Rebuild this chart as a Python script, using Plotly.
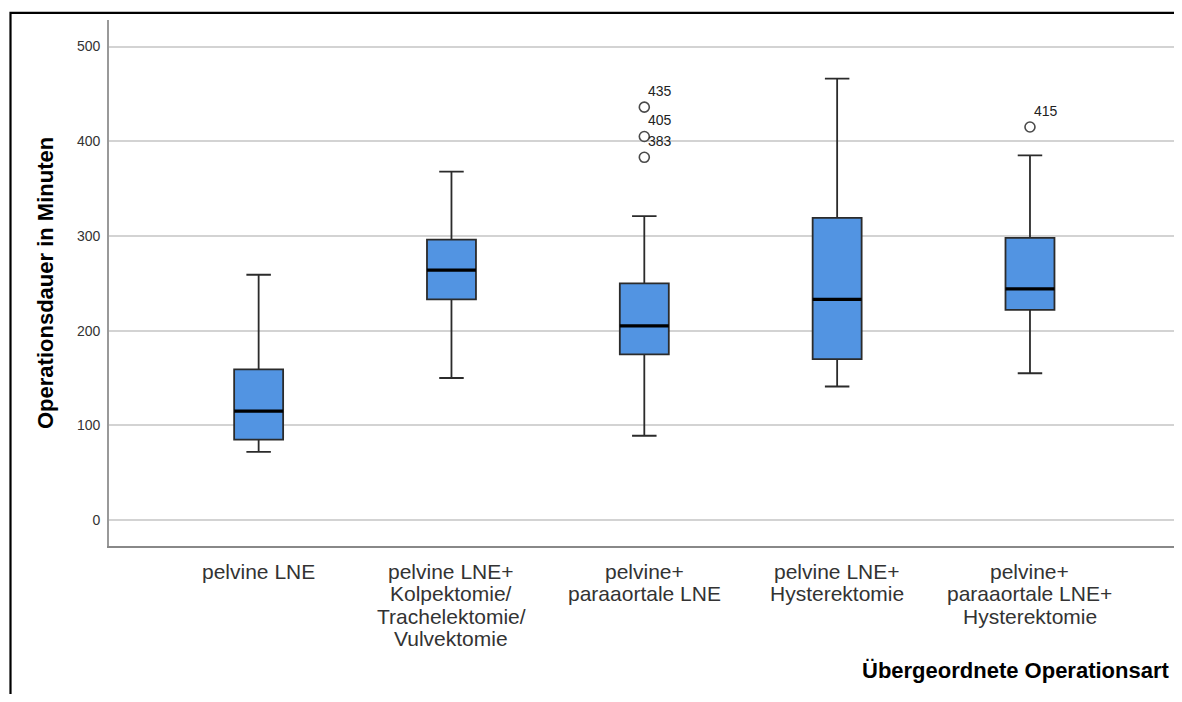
import plotly.graph_objects as go

categories = [
    "pelvine LNE",
    "pelvine LNE+<br>Kolpektomie/<br>Trachelektomie/<br>Vulvektomie",
    "pelvine+<br>paraaortale LNE",
    "pelvine LNE+<br>Hysterektomie",
    "pelvine+<br>paraaortale LNE+<br>Hysterektomie",
]
lower_whisker = [72, 150, 89, 141, 155]
q1_values = [85, 233, 175, 170, 222]
median_values = [115, 264, 205, 233, 244]
q3_values = [159, 296, 250, 319, 298]
upper_whisker = [259, 368, 321, 466, 385]

outlier_category = [2, 2, 2, 4]
outlier_values = [436, 405, 383, 415]
outlier_labels = ["435", "405", "383", "415"]

y_ticks = [0, 100, 200, 300, 400, 500]

FONT = "Liberation Sans, Arial, sans-serif"
BOX_FILL = "#5294e2"
BOX_LINE = "#2b2b2b"
BOX_WIDTH = 0.254

# figure geometry (page body has an 8px margin)
W, H = 1174, 686
ML, MR, MT, MB = 101, 2, 12, 148
PW = W - ML - MR
PH = H - MT - MB

fig = go.Figure()
x_idx = list(range(len(categories)))

fig.add_trace(go.Box(
    x=x_idx,
    q1=q1_values,
    median=median_values,
    q3=q3_values,
    lowerfence=lower_whisker,
    upperfence=upper_whisker,
    width=BOX_WIDTH,
    whiskerwidth=0.5,
    fillcolor=BOX_FILL,
    line=dict(color=BOX_LINE, width=1.8),
    boxpoints=False,
    showlegend=False,
    hoverinfo="skip",
))

fig.add_trace(go.Scatter(
    x=outlier_category,
    y=outlier_values,
    mode="markers",
    marker=dict(symbol="circle-open", size=10, color="#4a4a4a", line=dict(width=1.6)),
    showlegend=False,
    hoverinfo="skip",
))

shapes = []
for i, m in enumerate(median_values):
    shapes.append(dict(
        type="line", xref="x", yref="y",
        x0=i - BOX_WIDTH / 2, x1=i + BOX_WIDTH / 2, y0=m, y1=m,
        line=dict(color="black", width=3.2), layer="above",
    ))

# outer frame of the figure
shapes.append(dict(
    type="rect", xref="paper", yref="paper",
    x0=(2.5 - ML) / PW, x1=1.05, y0=-0.5, y1=1 + (MT - 4.8) / PH,
    line=dict(color="black", width=2.2), fillcolor="rgba(0,0,0,0)", layer="below",
))

annotations = []
for c, v, t in zip(outlier_category, outlier_values, outlier_labels):
    annotations.append(dict(
        x=c, y=v, xref="x", yref="y", text=t, showarrow=False,
        xanchor="left", yanchor="middle", xshift=2, yshift=16,
        font=dict(family=FONT, size=14, color="#222"),
    ))

# category labels (line spacing tighter than plotly's default tick labels)
LINE_GAP = 22.3
for i, cat in enumerate(categories):
    for j, line in enumerate(cat.split("<br>")):
        annotations.append(dict(
            x=i, y=0, xref="x", yref="paper", text=line, showarrow=False,
            xanchor="center", yanchor="middle", yshift=-(25.5 + LINE_GAP * j),
            font=dict(family=FONT, size=21, color="#333"),
        ))

annotations.append(dict(
    x=(37 - ML) / PW, y=0.5, xref="paper", yref="paper",
    text="<b>Operationsdauer in Minuten</b>", showarrow=False, textangle=-90,
    xanchor="center", yanchor="middle",
    font=dict(family=FONT, size=22, color="black"),
))

annotations.append(dict(
    x=(1164 - ML) / PW, y=(PH - 662.6 + MT) / PH, xref="paper", yref="paper",
    text="<b>Übergeordnete Operationsart</b>", showarrow=False,
    xanchor="right", yanchor="middle",
    font=dict(family=FONT, size=22, color="black"),
))

fig.update_layout(
    width=W, height=H,
    margin=dict(l=ML, r=MR, t=MT, b=MB),
    paper_bgcolor="white", plot_bgcolor="white",
    shapes=shapes, annotations=annotations,
    showlegend=False,
    font=dict(family=FONT),
)

fig.update_xaxes(
    range=[-0.776, 4.778],
    tickmode="array", tickvals=x_idx, ticktext=categories,
    showticklabels=False,
    showgrid=False, zeroline=False,
    showline=True, linecolor="#888", linewidth=1.6,
    ticks="",
)

fig.update_yaxes(
    range=[-27.4, 528],
    tickmode="array", tickvals=y_ticks,
    showgrid=True, gridcolor="#d3d3d3", gridwidth=1.6,
    zeroline=False,
    showline=True, linecolor="#999", linewidth=1.6,
    ticks="", ticklabelstandoff=4,
    tickfont=dict(family=FONT, size=14, color="#333"),
)

fig.write_html("out.html")
